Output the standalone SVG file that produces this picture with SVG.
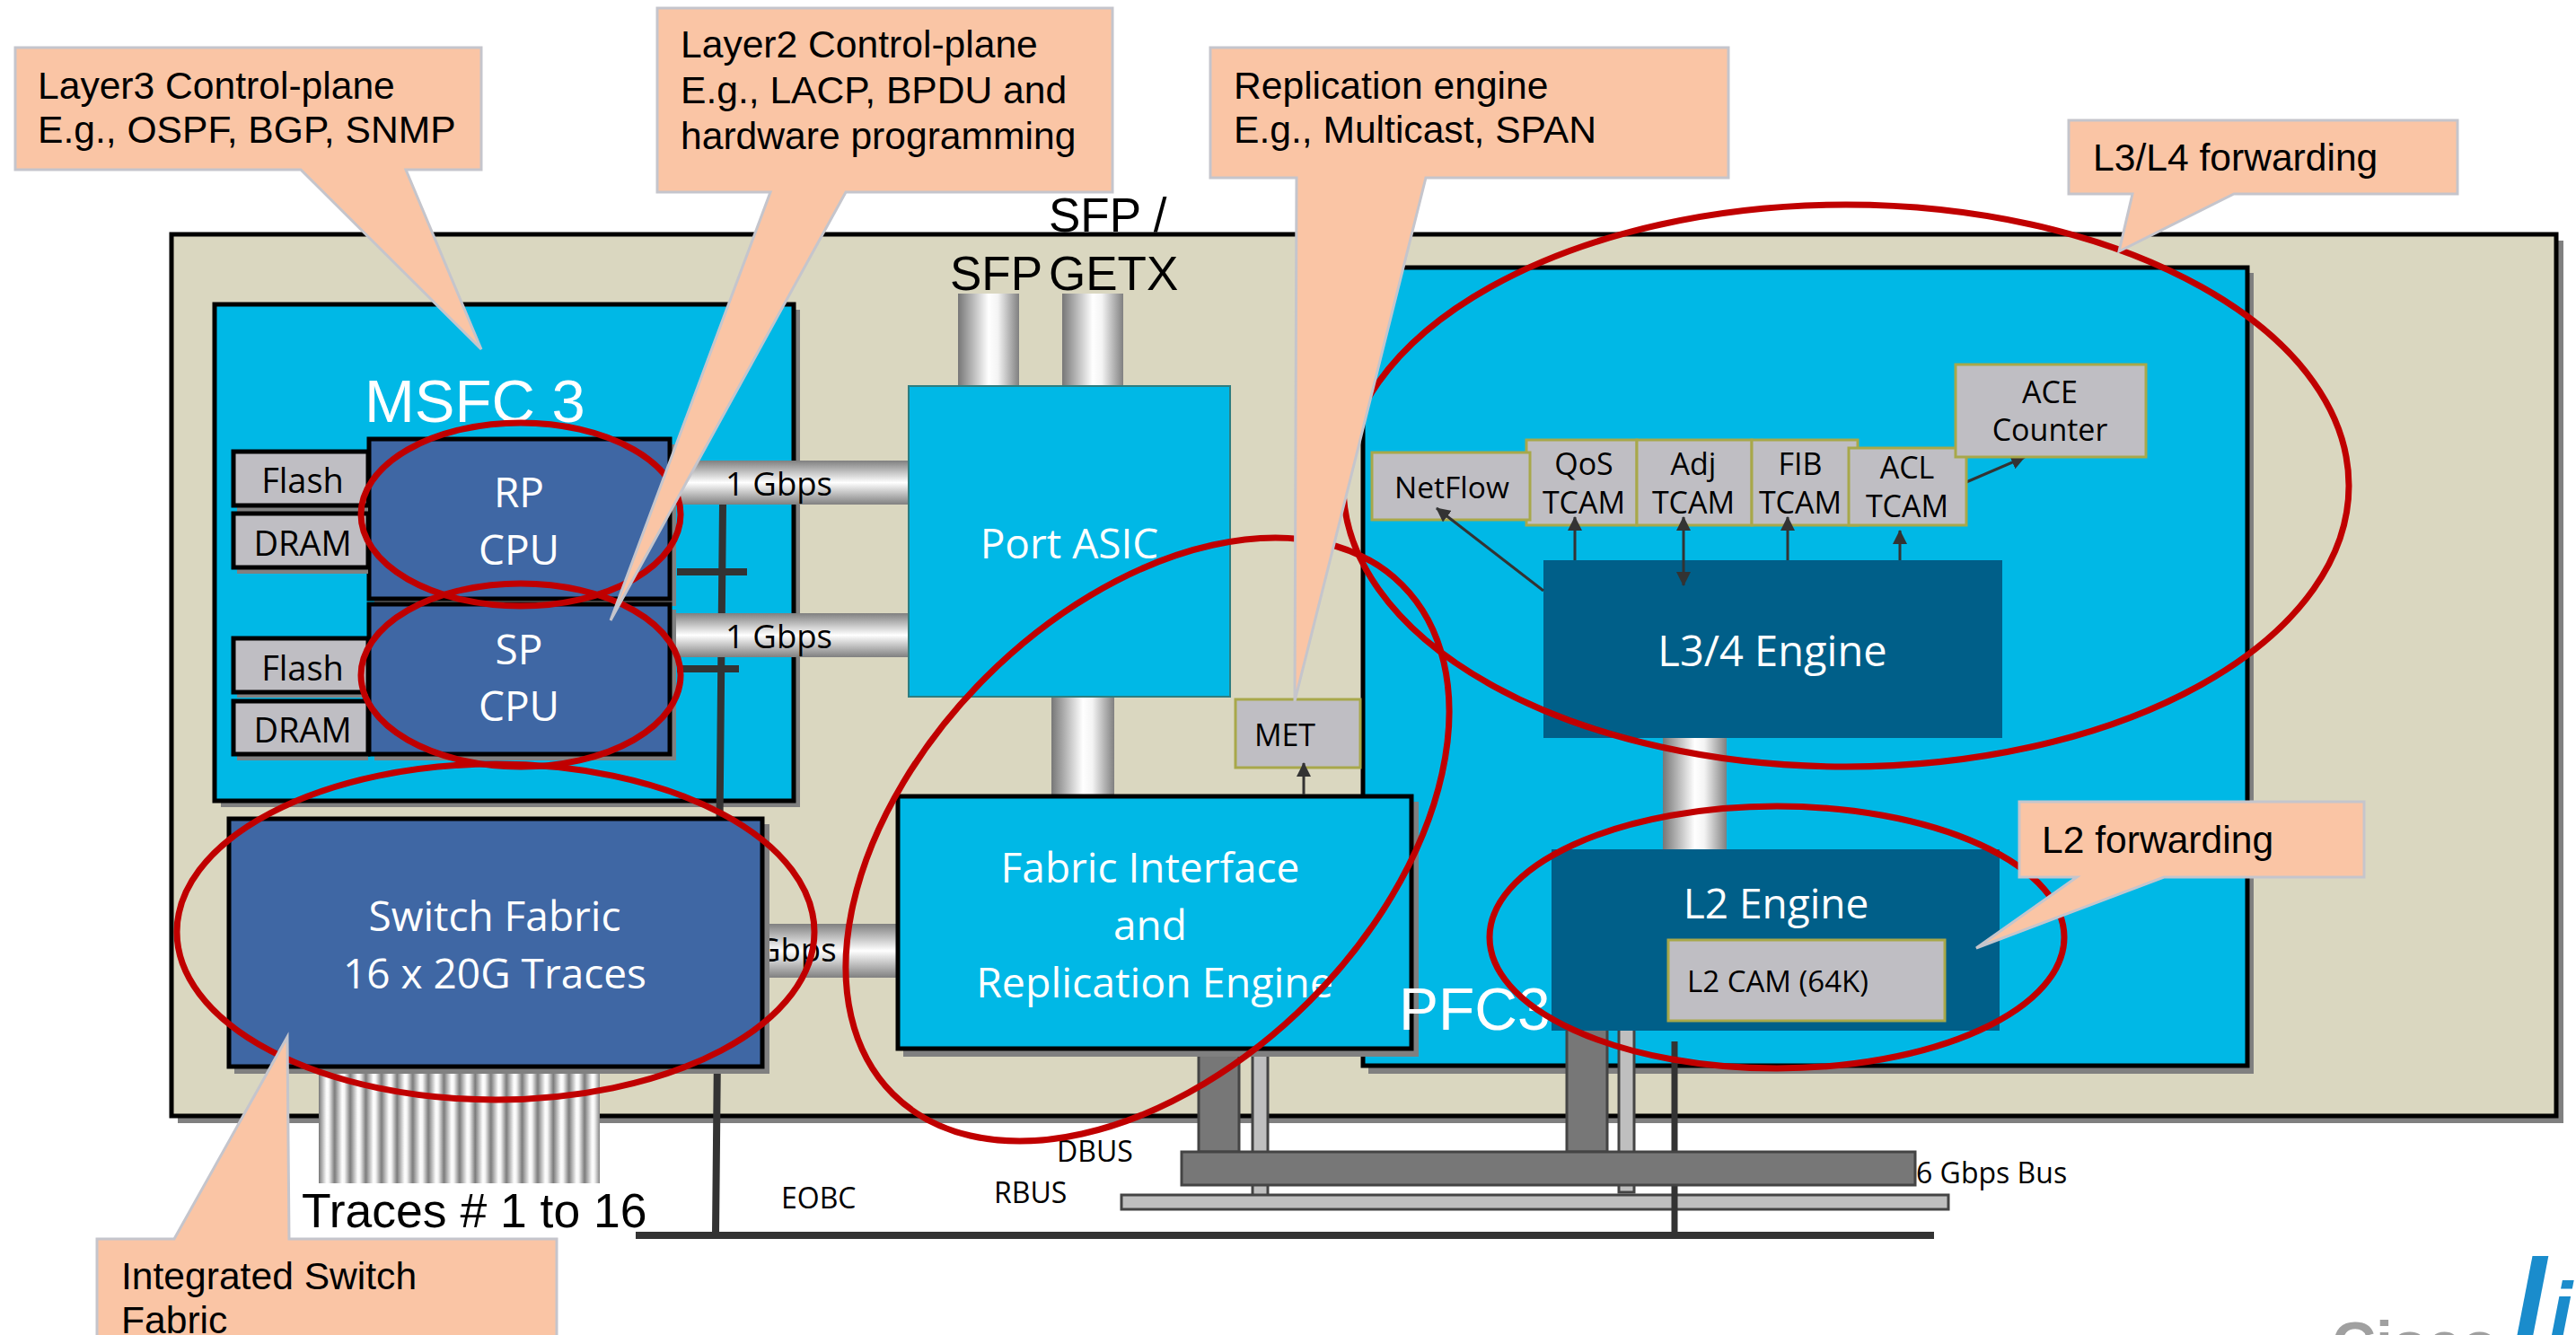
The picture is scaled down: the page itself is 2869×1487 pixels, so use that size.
<svg xmlns="http://www.w3.org/2000/svg" width="2869" height="1487" viewBox="0 0 2869 1487">
<style>
text{font-family:"Open Sans","Noto Sans",sans-serif}
.a{font-family:"Liberation Sans",Arial,sans-serif}
.w{fill:#fff}.k{fill:#000}
.c{text-anchor:middle}
.s{fill:#808080}
.box{stroke:#000;stroke-width:5}
.cy{fill:#00b8e6}.bl{fill:#3f67a4}.tl{fill:#005f89}
.mem{fill:#bfbec3;stroke:#000;stroke-width:5}
.tc{fill:#bfbec3;stroke:#a8a84a;stroke-width:3}
.call{fill:#fac5a5;stroke:#c5c5cc;stroke-width:3}
.cap{font-family:"Liberation Sans",Arial,sans-serif;font-size:42.6px;fill:#000}
.el{fill:none;stroke:#c00000;stroke-width:7}
.ln{stroke:#333;stroke-width:3;fill:none}
.th{stroke:#333;stroke-width:8;fill:none}
.bar{stroke:#444;stroke-width:3}
</style>
<defs>
<linearGradient id="gh" x1="0" y1="0" x2="1" y2="0"><stop offset="0" stop-color="#777"/><stop offset=".5" stop-color="#fff"/><stop offset=".65" stop-color="#f4f4f4"/><stop offset="1" stop-color="#808080"/></linearGradient>
<linearGradient id="gv" x1="0" y1="0" x2="0" y2="1"><stop offset="0" stop-color="#808080"/><stop offset=".5" stop-color="#fff"/><stop offset="1" stop-color="#808080"/></linearGradient>
<pattern id="tr" x="355" y="0" width="17.4" height="10" patternUnits="userSpaceOnUse"><rect width="17.4" height="10" fill="url(#gh)"/></pattern>
<marker id="ah" viewBox="0 0 16 16" refX="15" refY="8" markerWidth="16" markerHeight="16" markerUnits="userSpaceOnUse" orient="auto-start-reverse"><path d="M0 0L16 8L0 16Z" fill="#333"/></marker>
</defs>
<rect width="2869" height="1487" fill="#fff"/>
<g id="chassis"><rect class="s" x="198" y="268" width="2657" height="983"/><rect x="191" y="261" width="2656" height="982" fill="#dad7c0" stroke="#000" stroke-width="5"/></g>
<g id="pfc3-box"><rect class="s" x="1524" y="304" width="986" height="892"/><rect class="box cy" x="1518" y="298" width="985" height="889"/></g>
<g id="msfc3-box"><rect class="s" x="246" y="345" width="645" height="554"/><rect class="box cy" x="239" y="339" width="645" height="553"/></g>
<g id="connectors">
<rect x="355" y="1196" width="313" height="122" fill="url(#tr)"/>
<rect x="1067" y="327" width="68" height="104" fill="url(#gh)"/>
<rect x="1183" y="327" width="68" height="104" fill="url(#gh)"/>
<rect x="1171" y="776" width="70" height="113" fill="url(#gh)"/>
<rect x="1852" y="820" width="71" height="128" fill="url(#gh)"/>
<rect x="849" y="1029" width="152" height="60" fill="url(#gv)"/>
<path class="th" d="M805 562L797 1374M754 637H832M754 745H823"/>
<rect x="740" y="513" width="272" height="49" fill="url(#gv)"/>
<rect x="750" y="683" width="262" height="49" fill="url(#gv)"/>
<rect class="bar" x="1395" y="1170" width="17" height="162" fill="#bfbfbf" stroke-width="1"/>
<rect class="bar" x="1803" y="1146" width="17" height="182" fill="#bfbfbf" stroke-width="1"/>
<rect class="bar" x="1249" y="1331" width="921" height="16" fill="#bfbfbf"/>
<path d="M1865 1160V1372" stroke="#333" stroke-width="7" fill="none"/>
<rect class="bar" x="1335" y="1175" width="45" height="108" fill="#777"/>
<rect class="bar" x="1745" y="1146" width="45" height="137" fill="#777"/>
<rect class="bar" x="1316" y="1283" width="817" height="37" fill="#777"/>
<rect x="708" y="1372" width="1446" height="8" fill="#333"/>
<path class="ln" d="M2116 624V591" marker-end="url(#ah)"/>
<path class="ln" d="M2190 537L2255 509" marker-end="url(#ah)"/>
</g>
<g id="gbps-labels" font-size="36.5">
<text x="808" y="552" class="k">1 Gbps</text>
<text x="808" y="722" class="k">1 Gbps</text>
<text x="843" y="1071" class="k">Gbps</text>
</g>
<g id="rp-cpu"><rect class="s" x="417" y="495" width="336" height="180"/><rect class="box bl" x="411" y="489" width="335" height="178"/><text class="w c" x="578" y="565" font-size="46">RP</text><text class="w c" x="578" y="629" font-size="46">CPU</text></g>
<g id="sp-cpu"><rect class="s" x="417" y="679" width="336" height="168"/><rect class="box bl" x="411" y="673" width="335" height="167"/><text class="w c" x="578" y="740" font-size="46">SP</text><text class="w c" x="578" y="803" font-size="46">CPU</text></g>
<g id="flash-1"><rect class="s" x="264" y="509" width="146" height="61"/><rect class="mem" x="260" y="503" width="150" height="60"/><text class="k c" x="337" y="549" font-size="38">Flash</text></g>
<g id="dram-1"><rect class="s" x="264" y="578" width="146" height="61"/><rect class="mem" x="260" y="572" width="150" height="60"/><text class="k c" x="337" y="619" font-size="38">DRAM</text></g>
<g id="flash-2"><rect class="s" x="264" y="717" width="146" height="60"/><rect class="mem" x="260" y="711" width="150" height="60"/><text class="k c" x="337" y="758" font-size="38">Flash</text></g>
<g id="dram-2"><rect class="s" x="264" y="787" width="146" height="60"/><rect class="mem" x="260" y="781" width="150" height="59"/><text class="k c" x="337" y="827" font-size="38">DRAM</text></g>
<g id="msfc3-label"><text class="a w" x="406" y="470" font-size="67">MSFC 3</text></g>
<g id="switch-fabric"><rect class="s" x="261" y="918" width="596" height="278"/><rect class="box bl" x="255" y="912" width="594" height="276"/><text class="w c" x="551" y="1037" font-size="46">Switch Fabric</text><text class="w c" x="551" y="1101" font-size="46">16 x 20G Traces</text></g>
<g id="port-asic"><rect x="1012" y="430" width="358" height="346" fill="#00b8e6" stroke="#2e7d80" stroke-width="2"/><text class="w c" x="1191" y="622" font-size="46">Port ASIC</text></g>
<g id="met"><rect class="tc" x="1376" y="779" width="139" height="76"/><text class="k c" x="1431" y="831" font-size="34">MET</text></g>
<g id="fabric-interface"><rect class="s" x="1006" y="893" width="574" height="284"/><rect class="box cy" x="1000" y="887" width="572" height="281"/><text class="w c" x="1281" y="983" font-size="46">Fabric Interface</text><text class="w c" x="1281" y="1047" font-size="46">and</text><text class="w c" x="1286" y="1111" font-size="46.5">Replication Engine</text></g>
<g id="pfc3-label"><text class="a w" x="1558" y="1147" font-size="66">PFC3</text></g>
<g id="l34-engine"><rect class="tl" x="1719" y="624" width="511" height="198"/><text class="w c" x="1974" y="742" font-size="47">L3/4 Engine</text></g>
<g id="l2-engine"><rect class="tl" x="1728" y="946" width="499" height="202"/><text class="w c" x="1978" y="1023" font-size="46">L2 Engine</text></g>
<g id="l2-cam"><rect class="tc" x="1858" y="1047" width="308" height="90"/><text class="k" x="1879" y="1105" font-size="33">L2 CAM (64K)</text></g>
<g id="qos-tcam"><rect class="tc" x="1700" y="490" width="123" height="95"/><text class="k c" x="1764" y="529" font-size="34">QoS</text><text class="k c" x="1764" y="572" font-size="34">TCAM</text></g>
<g id="adj-tcam"><rect class="tc" x="1823" y="490" width="128" height="95"/><text class="k c" x="1886" y="529" font-size="34">Adj</text><text class="k c" x="1886" y="572" font-size="34">TCAM</text></g>
<g id="fib-tcam"><rect class="tc" x="1951" y="490" width="118" height="95"/><text class="k c" x="2005" y="529" font-size="34">FIB</text><text class="k c" x="2005" y="572" font-size="34">TCAM</text></g>
<g id="acl-tcam"><rect class="tc" x="2059" y="499" width="131" height="86"/><text class="k c" x="2124" y="533" font-size="34">ACL</text><text class="k c" x="2124" y="576" font-size="34">TCAM</text></g>
<g id="netflow"><rect class="tc" x="1528" y="504" width="176" height="75"/><text class="k c" x="1617" y="555" font-size="33.5">NetFlow</text></g>
<g id="ace-counter"><rect class="tc" x="2178" y="406" width="212" height="103"/><text class="k c" x="2283" y="449" font-size="34">ACE</text><text class="k c" x="2283" y="491" font-size="34">Counter</text></g>
<g id="connectors-front">
<path class="ln" d="M1754 624V576" marker-end="url(#ah)"/>
<path class="ln" d="M1875 652V576" marker-start="url(#ah)" marker-end="url(#ah)"/>
<path class="ln" d="M1991 624V576" marker-end="url(#ah)"/>
<path class="ln" d="M1719 658L1600 566" marker-end="url(#ah)"/>
<path class="ln" d="M1452 885V850" marker-end="url(#ah)"/>
</g>
<g id="bus-labels" font-size="32">
<text x="1177" y="1294" class="k">DBUS</text>
<text x="1107" y="1340" class="k">RBUS</text>
<text x="870" y="1346" class="k">EOBC</text>
<text x="2134" y="1318" class="k">6 Gbps Bus</text>
</g>
<g id="a-traces-label"><text class="a k" x="336" y="1367" font-size="53.5">Traces # 1 to 16</text></g>
<g id="sfp-labels" class="a">
<text class="a k" x="1168" y="258" font-size="53">SFP /</text>
<text class="a k" x="1058" y="323" font-size="53">SFP</text>
<text class="a k" x="1168" y="323" font-size="53">GETX</text>
</g>
<g id="highlights">
<ellipse class="el" cx="580" cy="573" rx="178" ry="102"/>
<ellipse class="el" cx="580" cy="752" rx="178" ry="102"/>
<ellipse class="el" cx="552" cy="1038" rx="355" ry="187"/>
<ellipse class="el" cx="1278" cy="935" rx="401" ry="255" transform="rotate(-45 1278 935)"/>
<ellipse class="el" cx="2056" cy="541" rx="560" ry="313"/>
<ellipse class="el" cx="1979" cy="1044" rx="320" ry="146"/>
</g>
<g id="callout-layer3"><path class="call" d="M17 53H536V189H452L536 389L335 189H17Z"/><text class="cap" x="42" y="110">Layer3 Control-plane</text><text class="cap" x="42" y="159">E.g., OSPF, BGP, SNMP</text></g>
<g id="callout-layer2"><path class="call" d="M732 9H1239V214H942L680 691L858 214H732Z"/><text class="cap" x="758" y="64">Layer2 Control-plane</text><text class="cap" x="758" y="115">E.g., LACP, BPDU and</text><text class="cap" x="758" y="166">hardware programming</text></g>
<g id="callout-replication"><path class="call" d="M1348 53H1925V198H1588L1442 781L1444 198H1348Z"/><text class="cap" x="1374" y="110">Replication engine</text><text class="cap" x="1374" y="159">E.g., Multicast, SPAN</text></g>
<g id="callout-l3l4"><path class="call" d="M2304 134H2737V216H2488L2360 280L2375 216H2304Z"/><text class="cap" x="2331" y="190">L3/L4 forwarding</text></g>
<g id="callout-l2"><path class="call" d="M2249 893H2633V977H2410L2201 1056L2313 977H2249Z"/><text class="cap" x="2274" y="950">L2 forwarding</text></g>
<g id="callout-switch"><path class="call" d="M108 1380H194L320 1155L322 1380H620V1500H108Z"/><text class="cap" x="135" y="1436">Integrated Switch</text><text class="cap" x="135" y="1485">Fabric</text></g>
<g id="logo"><text class="a" x="2597" y="1520" font-size="68" font-weight="bold" fill="#a0a0a0">Cisco</text><text class="a" x="2800" y="1493" font-size="130" font-style="italic" font-weight="bold" fill="#1a8ccc">l<tspan font-size="93" dx="3">i</tspan></text></g>
</svg>
